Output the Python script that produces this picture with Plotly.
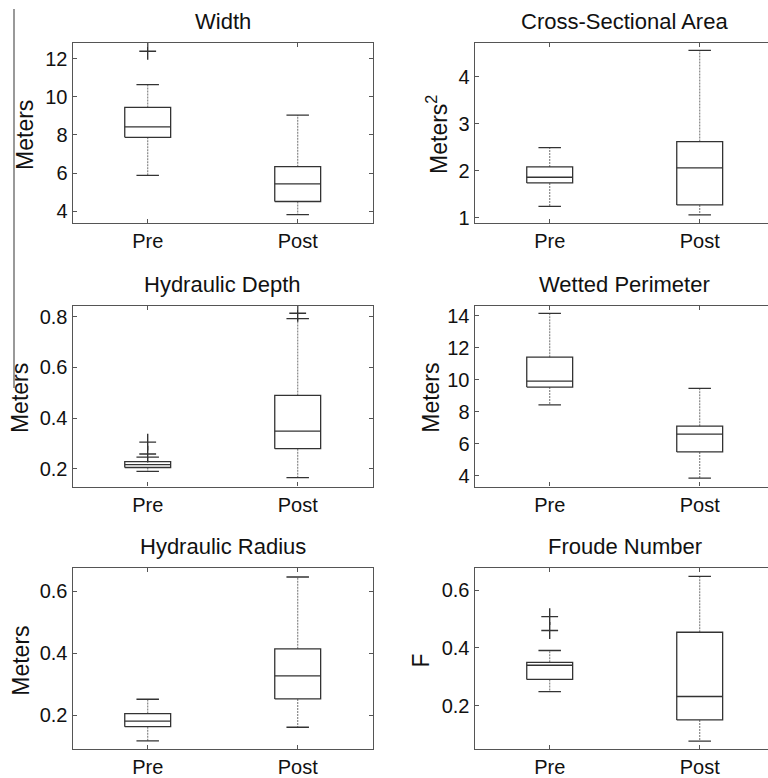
import plotly.graph_objects as go

groups = ["Pre", "Post"]
positions = [1, 2]

titles = ["Width", "Cross-Sectional Area", "Hydraulic Depth",
          "Wetted Perimeter", "Hydraulic Radius", "Froude Number"]
ylabels = ["Meters", "Meters<sup>2</sup>", "Meters", "Meters", "Meters", "F"]

# Box statistics [Pre, Post]
width_lower = [5.89, 3.83]
width_q1 = [7.88, 4.52]
width_median = [8.42, 5.44]
width_q3 = [9.44, 6.34]
width_upper = [10.63, 9.04]
width_outliers = [[12.38], []]

area_lower = [1.24, 1.06]
area_q1 = [1.74, 1.27]
area_median = [1.86, 2.06]
area_q3 = [2.08, 2.62]
area_upper = [2.49, 4.56]
area_outliers = [[], []]

depth_lower = [0.19, 0.165]
depth_q1 = [0.205, 0.279]
depth_median = [0.216, 0.348]
depth_q3 = [0.228, 0.489]
depth_upper = [0.246, 0.792]
depth_outliers = [[0.258, 0.305], [0.813]]

perim_lower = [8.42, 3.85]
perim_q1 = [9.53, 5.48]
perim_median = [9.90, 6.59]
perim_q3 = [11.40, 7.09]
perim_upper = [14.14, 9.45]
perim_outliers = [[], []]

radius_lower = [0.118, 0.162]
radius_q1 = [0.164, 0.253]
radius_median = [0.182, 0.327]
radius_q3 = [0.206, 0.414]
radius_upper = [0.252, 0.645]
radius_outliers = [[], []]

froude_lower = [0.249, 0.078]
froude_q1 = [0.291, 0.151]
froude_median = [0.340, 0.232]
froude_q3 = [0.350, 0.454]
froude_upper = [0.391, 0.647]
froude_outliers = [[0.46, 0.508], []]

panels = [
    (width_lower, width_q1, width_median, width_q3, width_upper, width_outliers),
    (area_lower, area_q1, area_median, area_q3, area_upper, area_outliers),
    (depth_lower, depth_q1, depth_median, depth_q3, depth_upper, depth_outliers),
    (perim_lower, perim_q1, perim_median, perim_q3, perim_upper, perim_outliers),
    (radius_lower, radius_q1, radius_median, radius_q3, radius_upper, radius_outliers),
    (froude_lower, froude_q1, froude_median, froude_q3, froude_upper, froude_outliers),
]

y_ranges = [[3.38, 12.83], [0.88, 4.725], [0.13, 0.843],
            [3.32, 14.62], [0.0915, 0.673], [0.05, 0.675]]
y_dticks = [2, 1, 0.2, 2, 0.2, 0.2]

W, H = 768, 778
FONT = "Liberation Sans, Arial, sans-serif"
TXT = "#111111"
AXC = "#555555"
BOXC = "#333333"
WHC = "#888888"

# pixel geometry
col_px = [(72.7, 372.7), (474.7, 774.7)]
row_px = [(42, 224), (307, 489.3), (571.7, 754)]

BOX_HALF = 0.153
CAP_HALF = 0.075

fig = go.Figure()
layout = dict(width=W, height=H, margin=dict(l=0, r=0, t=0, b=0),
              paper_bgcolor="white", plot_bgcolor="white",
              showlegend=False, font=dict(family=FONT, color=TXT),
              annotations=[], shapes=[])

for k, (lo, q1, med, q3, up, outl) in enumerate(panels):
    r, c = divmod(k, 2)
    sfx = "" if k == 0 else str(k + 1)
    xa, ya = "x" + sfx, "y" + sfx
    bx, by = [], []
    wx, wy = [], []
    for i, p in enumerate(positions):
        bx += [p - BOX_HALF, p + BOX_HALF, p + BOX_HALF, p - BOX_HALF, p - BOX_HALF, None]
        by += [q1[i], q1[i], q3[i], q3[i], q1[i], None]
        bx += [p - BOX_HALF, p + BOX_HALF, None]
        by += [med[i], med[i], None]
        bx += [p - CAP_HALF, p + CAP_HALF, None, p - CAP_HALF, p + CAP_HALF, None]
        by += [up[i], up[i], None, lo[i], lo[i], None]
        wx += [p, p, None, p, p, None]
        wy += [q3[i], up[i], None, q1[i], lo[i], None]
    fig.add_trace(go.Scatter(x=wx, y=wy, mode="lines", xaxis=xa, yaxis=ya,
                             line=dict(color=WHC, width=1.2, dash="2px,1px"),
                             hoverinfo="skip"))
    fig.add_trace(go.Scatter(x=bx, y=by, mode="lines", xaxis=xa, yaxis=ya,
                             line=dict(color=BOXC, width=1.3), hoverinfo="skip"))
    ox, oy = [], []
    for i, p in enumerate(positions):
        for v in outl[i]:
            ox.append(p)
            oy.append(v)
    if ox:
        fig.add_trace(go.Scatter(x=ox, y=oy, mode="markers", xaxis=xa, yaxis=ya,
                                 marker=dict(symbol="cross-thin", size=12,
                                             line=dict(color=BOXC, width=1.4)),
                                 hoverinfo="skip"))

    x0, x1 = col_px[c]
    t0, t1 = row_px[r]
    xdom_end = min(x1, W)
    xr_end = 0.5 + 2.0 * (xdom_end - x0) / (x1 - x0)
    clipped = x1 > W
    layout["xaxis" + sfx] = dict(
        domain=[x0 / W, xdom_end / W], range=[0.5, xr_end], anchor=ya,
        tickvals=positions, ticktext=groups, ticks="inside", ticklen=4,
        tickcolor=AXC, showline=True, linecolor=AXC, linewidth=1.4,
        mirror="ticks", showgrid=False, zeroline=False, fixedrange=True,
        tickfont=dict(size=20, color=TXT, family=FONT))
    layout["yaxis" + sfx] = dict(
        domain=[1 - t1 / H, 1 - t0 / H], range=y_ranges[k], anchor=xa,
        dtick=y_dticks[k], tick0=0, ticks="inside", ticklen=4, tickcolor=AXC,
        showline=True, linecolor=AXC, linewidth=1.4,
        mirror=False if clipped else "ticks", showgrid=False, zeroline=False,
        fixedrange=True, tickfont=dict(size=20, color=TXT, family=FONT))

    layout["annotations"].append(dict(
        text=titles[k], xref="paper", yref="paper",
        x=((x0 + x1) / 2) / W, y=1 - t0 / H, xanchor="center", yanchor="bottom",
        yshift=7, showarrow=False, font=dict(size=22, color=TXT, family=FONT)))

title_x = [25, 437, 20, 430.7, 21, 420.7]
for k in range(6):
    r, c = divmod(k, 2)
    t0, t1 = row_px[r]
    layout["annotations"].append(dict(
        text=ylabels[k], xref="paper", yref="paper",
        x=title_x[k] / W, y=1 - ((t0 + t1) / 2 + 2) / H,
        xanchor="center", yanchor="middle", textangle=-90, showarrow=False,
        font=dict(size=23, color=TXT, family=FONT)))

# thin vertical rule at the left margin of the page
layout["shapes"].append(dict(type="line", xref="paper", yref="paper",
                             x0=14 / W, x1=14 / W, y0=1 - 8 / H, y1=1 - 390 / H,
                             line=dict(color="#777777", width=1.5)))

fig.update_layout(**layout)
fig.write_html("out.html")
